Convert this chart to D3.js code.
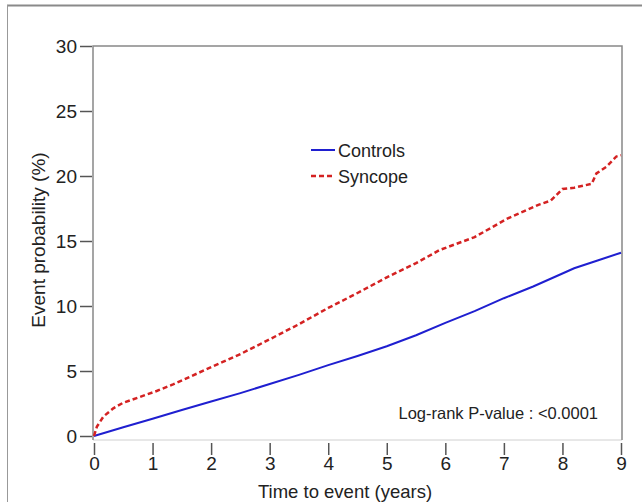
<!DOCTYPE html>
<html>
<head>
<meta charset="utf-8">
<script src="https://cdn.jsdelivr.net/npm/d3@7"></script>
<style>
  body { margin: 0; background: #fff; }
  text { font-family: "Liberation Sans", Arial, sans-serif; fill: #222; }
</style>
</head>
<body>
<div id="chart"></div>
<script>
// data
const controlTimes = [0, 0.5, 1, 1.5, 2, 2.5, 3, 3.5, 4, 4.5, 5, 5.5, 6, 6.5, 7, 7.5, 8, 8.2, 8.6, 9];
const controlValues = [0, 0.67, 1.33, 2.0, 2.65, 3.3, 4.0, 4.7, 5.45, 6.15, 6.9, 7.75, 8.7, 9.6, 10.6, 11.5, 12.5, 12.9, 13.5, 14.1];

const syncopeTimes = [0, 0.05, 0.16, 0.33, 0.5, 0.8, 1.07, 1.35, 1.64, 2.2, 2.5, 3, 3.5, 4, 4.5, 5, 5.5, 5.9, 6.5, 7.05, 7.6, 7.8, 8.0, 8.2, 8.5, 8.58, 8.75, 8.92, 9.0];
const syncopeValues = [0, 0.72, 1.49, 2.13, 2.56, 3.03, 3.46, 3.97, 4.56, 5.7, 6.3, 7.44, 8.6, 9.85, 11.0, 12.2, 13.3, 14.3, 15.3, 16.7, 17.8, 18.1, 19.0, 19.1, 19.4, 20.2, 20.7, 21.5, 21.6];

const xTicks = [0, 1, 2, 3, 4, 5, 6, 7, 8, 9];
const yTicks = [0, 5, 10, 15, 20, 25, 30];

const W = 642, H = 502;

const svg = d3.select("#chart").append("svg")
  .attr("width", W)
  .attr("height", H);

// outer frame (only top and left visible in the picture)
svg.append("line").attr("x1", 7).attr("x2", W).attr("y1", 5.5).attr("y2", 5.5)
  .attr("stroke", "#8a8a8a").attr("stroke-width", 2);
svg.append("line").attr("x1", 7.5).attr("x2", 7.5).attr("y1", 5).attr("y2", H)
  .attr("stroke", "#999").attr("stroke-width", 1);

const x = d3.scaleLinear().domain([0, 9]).range([94, 621]);
const y = d3.scaleLinear().domain([0, 30]).range([436, 46]);

// plot box
svg.append("line").attr("x1", 93).attr("x2", 622).attr("y1", 440).attr("y2", 440)
  .attr("stroke", "#d0d0d0").attr("stroke-width", 1);
svg.append("path")
  .attr("d", "M93,440V46H622V440")
  .attr("fill", "none").attr("stroke", "#888").attr("stroke-width", 1.5);

// y axis
const yAxis = svg.append("g")
  .attr("transform", "translate(92,0)")
  .call(d3.axisLeft(y).tickValues(yTicks).tickSize(12).tickPadding(3));
yAxis.select(".domain").remove();
yAxis.selectAll("line").attr("stroke", "#555").attr("stroke-width", 1.5);
yAxis.selectAll("text").style("font-size", "19px").attr("font-family", "Liberation Sans, Arial, sans-serif").attr("fill", "#1a1a1a");

// x axis
const xAxis = svg.append("g")
  .attr("transform", "translate(0,443)")
  .call(d3.axisBottom(x).tickValues(xTicks).tickSize(12).tickPadding(2));
xAxis.select(".domain").remove();
xAxis.selectAll("line").attr("stroke", "#555").attr("stroke-width", 1.5);
xAxis.selectAll("text").style("font-size", "19px").attr("font-family", "Liberation Sans, Arial, sans-serif").attr("fill", "#1a1a1a");

// axis titles
svg.append("text")
  .attr("transform", "translate(45,240) rotate(-90)")
  .attr("text-anchor", "middle")
  .style("font-size", "19px")
  .text("Event probability (%)");

svg.append("text")
  .attr("x", 345).attr("y", 498)
  .attr("text-anchor", "middle")
  .style("font-size", "18.5px")
  .text("Time to event (years)");

// curves
const line = d3.line().x(d => x(d[0])).y(d => y(d[1]));

svg.append("path")
  .datum(controlTimes.map((t, i) => [t, controlValues[i]]))
  .attr("fill", "none")
  .attr("stroke", "#1f1fd0")
  .attr("stroke-width", 2)
  .attr("d", line);

svg.append("path")
  .datum(syncopeTimes.map((t, i) => [t, syncopeValues[i]]))
  .attr("fill", "none")
  .attr("stroke", "#d42222")
  .attr("stroke-width", 2.5)
  .attr("stroke-dasharray", "5,3")
  .attr("d", line);

// legend
const legend = [
  { name: "Controls", color: "#1f1fd0", dash: null, w: 2, y: 150 },
  { name: "Syncope", color: "#d42222", dash: "5,3", w: 2.5, y: 176 }
];
legend.forEach(l => {
  svg.append("line")
    .attr("x1", 311).attr("x2", 335).attr("y1", l.y).attr("y2", l.y)
    .attr("stroke", l.color).attr("stroke-width", l.w)
    .attr("stroke-dasharray", l.dash);
  svg.append("text")
    .attr("x", 338).attr("y", l.y + 6.5)
    .style("font-size", "18px")
    .text(l.name);
});

svg.append("text")
  .attr("x", 598).attr("y", 419)
  .attr("text-anchor", "end")
  .style("font-size", "16.5px")
  .text("Log-rank P-value : <0.0001");
</script>
</body>
</html>
